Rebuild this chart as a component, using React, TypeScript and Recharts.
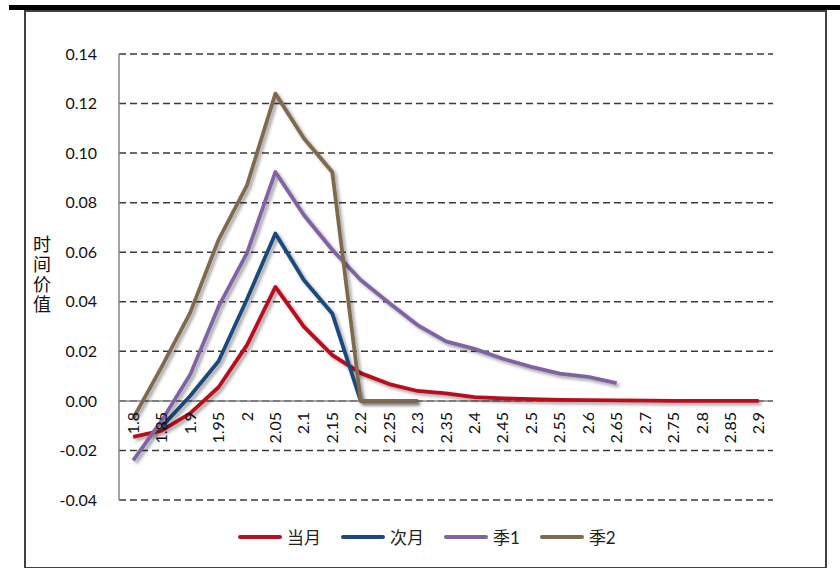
import React from 'react';
import {
  LineChart,
  Line,
  XAxis,
  YAxis,
  CartesianGrid,
  ReferenceLine,
} from 'recharts';

const categories = [
  '1.8', '1.85', '1.9', '1.95', '2', '2.05', '2.1', '2.15', '2.2', '2.25', '2.3', '2.35',
  '2.4', '2.45', '2.5', '2.55', '2.6', '2.65', '2.7', '2.75', '2.8', '2.85', '2.9',
];

const dangyue = [
  -0.0145, -0.012, -0.005, 0.0055, 0.0225, 0.046, 0.030, 0.0185, 0.0112, 0.0068, 0.004, 0.003,
  0.0015, 0.001, 0.0007, 0.0004, 0.0003, 0.0002, 0.0001, 0, 0, 0, 0,
];
const ciyue = [
  null, -0.0105, 0.002, 0.016, 0.041, 0.0676, 0.0488, 0.0353, 0, 0, 0, null,
  null, null, null, null, null, null, null, null, null, null, null,
];
const ji1 = [
  -0.024, -0.008, 0.0105, 0.038, 0.0596, 0.0924, 0.075, 0.061, 0.0488, 0.0395, 0.0306, 0.024,
  0.021, 0.017, 0.0137, 0.011, 0.0097, 0.0072, null, null, null, null, null,
];
const ji2 = [
  -0.007, 0.0137, 0.0355, 0.065, 0.087, 0.124, 0.106, 0.0924, 0, 0, 0, null,
  null, null, null, null, null, null, null, null, null, null, null,
];

const yTicks = [-0.04, -0.02, 0, 0.02, 0.04, 0.06, 0.08, 0.1, 0.12, 0.14];

const seriesList = [
  { key: 'dangyue', name: '当月', color: '#B8101F' },
  { key: 'ciyue', name: '次月', color: '#1F497D' },
  { key: 'ji1', name: '季1', color: '#8064A2' },
  { key: 'ji2', name: '季2', color: '#7F6B4F' },
];

const data = categories.map((c, i) => ({
  cat: c,
  dangyue: dangyue[i],
  ciyue: ciyue[i],
  ji1: ji1[i],
  ji2: ji2[i],
}));

const FONT = "Lato, 'Noto Sans CJK SC', sans-serif";

// plot box
const TOP = 54;
const PLOT_H = 446;
const Y_MIN = -0.04;
const Y_MAX = 0.14;
const ZERO_Y = TOP + (PLOT_H * Y_MAX) / (Y_MAX - Y_MIN);

const XTick = ({ x, payload }: any) => {
  const ty = ZERO_Y + 11;
  return (
    <text
      x={x}
      y={ty}
      dy="0.35em"
      textAnchor="end"
      transform={`rotate(-90, ${x}, ${ty})`}
      fontSize={16}
      fontFamily={FONT}
      fill="#111"
    >
      {payload.value}
    </text>
  );
};

const LegendBox = () => (
  <div
    style={{
      position: 'absolute',
      left: 238,
      top: 524,
      display: 'flex',
      alignItems: 'center',
      fontFamily: FONT,
      fontSize: 17,
      color: '#222',
    }}
  >
    {seriesList.map((s, i) => (
      <div key={s.key} style={{ display: 'flex', alignItems: 'center', marginRight: i < 3 ? 20 : 0 }}>
        <div style={{ width: 44, height: 4, borderRadius: 2, background: s.color, marginRight: 5 }} />
        <span>{s.name}</span>
      </div>
    ))}
  </div>
);

export default function App() {
  return (
    <div style={{ position: 'absolute', left: 0, top: 0, width: 840, height: 568, background: '#fff' }}>
      <div style={{ position: 'absolute', left: 9, top: 5, width: 831, height: 5, background: '#000' }} />
      <div
        style={{
          position: 'absolute',
          left: 24,
          top: 10,
          width: 799,
          height: 555,
          border: '2px solid #404040',
        }}
      />
      <div
        style={{
          position: 'absolute',
          left: 32,
          top: 234,
          fontFamily: FONT,
          fontSize: 18,
          lineHeight: '20px',
          width: 20,
          textAlign: 'center',
          color: '#111',
        }}
      >
        {'时间价值'.split('').map((ch) => (
          <div key={ch}>{ch}</div>
        ))}
      </div>
      <div style={{ position: 'absolute', left: 0, top: 0 }}>
        <LineChart width={840} height={568} data={data} margin={{ top: TOP, right: 67, left: 59, bottom: 38 }}>
          <defs>
            <filter id="sh" x="-10%" y="-10%" width="130%" height="130%">
              <feDropShadow dx="2.5" dy="2.5" stdDeviation="1.8" floodColor="#000" floodOpacity="0.35" />
            </filter>
          </defs>
          <CartesianGrid vertical={false} stroke="#3a3a3a" strokeWidth={1.5} strokeDasharray="7 4" />
          <XAxis
            dataKey="cat"
            scale="band"
            interval={0}
            height={30}
            axisLine={false}
            tickLine={false}
            tick={<XTick />}
          />
          <YAxis
            width={60}
            domain={[Y_MIN, Y_MAX]}
            ticks={yTicks}
            tickFormatter={(v: number) => v.toFixed(2)}
            tickLine={false}
            tickSize={0}
            tickMargin={22}
            axisLine={{ stroke: '#868686', strokeWidth: 1.5 }}
            tick={{ fontSize: 16, fontFamily: FONT, fill: '#111' }}
          />
          <ReferenceLine y={0} stroke="#868686" strokeWidth={1.5} />
          {seriesList.map((s) => (
            <Line
              key={s.key}
              dataKey={s.key}
              name={s.name}
              stroke={s.color}
              strokeWidth={3.8}
              dot={false}
              activeDot={false}
              type="linear"
              strokeLinejoin="round"
              filter="url(#sh)"
              isAnimationActive={false}
            />
          ))}
        </LineChart>
      </div>
      <LegendBox />
    </div>
  );
}
